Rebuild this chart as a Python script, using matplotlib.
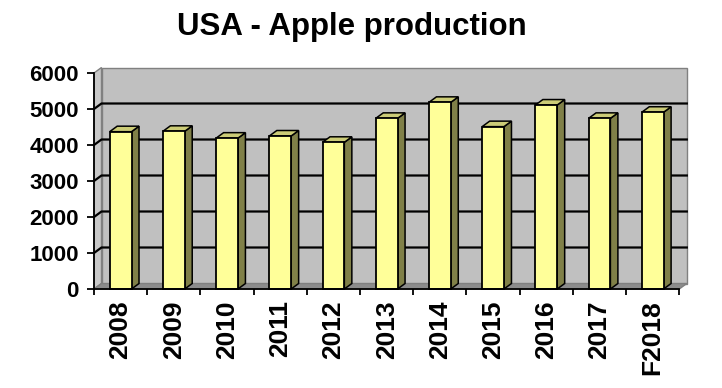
import matplotlib.pyplot as plt
from matplotlib.patches import Polygon
import numpy as np

# data
years = ['2008', '2009', '2010', '2011', '2012', '2013',
         '2014', '2015', '2016', '2017', 'F2018']
production = [4370, 4380, 4190, 4250, 4075, 4740,
              5185, 4510, 5110, 4740, 4910]
y_ticks = [0, 1000, 2000, 3000, 4000, 5000, 6000]

plt.rcParams['font.family'] = ['Liberation Sans', 'DejaVu Sans']
plt.rcParams['font.weight'] = 'bold'

fig = plt.figure(figsize=(7.22, 3.88), dpi=100)
ax = fig.add_axes([94 / 722, 99 / 388, 585.3 / 722, 216 / 388])
n = len(years)
x = np.arange(n)
ax.set_xlim(-0.5, n - 0.5)
ax.set_ylim(y_ticks[0], y_ticks[-1])
ax.patch.set_visible(False)

# 3d depth offset, converted from pixels to data units
px_x = 585.3 / n
px_y = 216 / (y_ticks[-1] - y_ticks[0])
dx = 7.5 / px_x
dy = 5.5 / px_y
x0, x1 = -0.5, n - 0.5
ytop = y_ticks[-1]

# back wall, left side wall and floor
wall = Polygon([(x0 + dx, dy), (x1 + dx, dy), (x1 + dx, ytop + dy), (x0 + dx, ytop + dy)],
               closed=True, fc='#c0c0c0', ec='#808080', lw=1.0, clip_on=False, zorder=0)
side = Polygon([(x0, 0), (x0 + dx, dy), (x0 + dx, ytop + dy), (x0, ytop)],
               closed=True, fc='#c8c8c8', ec='#808080', lw=1.0, clip_on=False, zorder=0)
floor = Polygon([(x0, 0), (x1, 0), (x1 + dx, dy), (x0 + dx, dy)],
                closed=True, fc='#8c8c8c', ec='#808080', lw=1.0, clip_on=False, zorder=0.5)
for p in (wall, side, floor):
    ax.add_patch(p)

# gridlines on the walls
for v in y_ticks[1:-1]:
    ax.plot([x0, x0 + dx, x1 + dx], [v, v + dy, v + dy], color='black', lw=1.6,
            clip_on=False, zorder=1)

# bars: front face + side + top
w = 0.41
ax.bar(x, production, width=w, color='#ffff99', edgecolor='black', lw=1.3,
       zorder=3, clip_on=False)
for xi, v in zip(x, production):
    r = xi + w / 2
    l = xi - w / 2
    ax.add_patch(Polygon([(r, 0), (r + dx, dy), (r + dx, v + dy), (r, v)], closed=True,
                         fc='#808048', ec='black', lw=1.1, zorder=2.5, clip_on=False))
    ax.add_patch(Polygon([(l, v), (r, v), (r + dx, v + dy), (l + dx, v + dy)], closed=True,
                         fc='#cccc77', ec='black', lw=1.1, zorder=2.5, clip_on=False))

# axes
for s in ('top', 'right'):
    ax.spines[s].set_visible(False)
for s in ('left', 'bottom'):
    ax.spines[s].set_color('black')
    ax.spines[s].set_linewidth(1.3)
    ax.spines[s].set_zorder(4)

ax.set_yticks(y_ticks)
ax.set_yticklabels([str(t) for t in y_ticks], fontsize=16, fontweight='bold')
ax.tick_params(axis='y', direction='out', length=5, width=1.3, pad=6)

ax.set_xticks(x)
ax.set_xticklabels(years, rotation=90, fontsize=19, fontweight='bold')
ax.set_xticks(np.arange(n + 1) - 0.5, minor=True)
ax.tick_params(axis='x', which='major', length=0, pad=8)
ax.tick_params(axis='x', which='minor', direction='out', length=4, width=1.3)

fig.text(0.488, 1 - 35 / 388, 'USA - Apple production', ha='center', va='baseline',
         fontsize=22.5, fontweight='bold')

fig.savefig('out.png', dpi=100)
